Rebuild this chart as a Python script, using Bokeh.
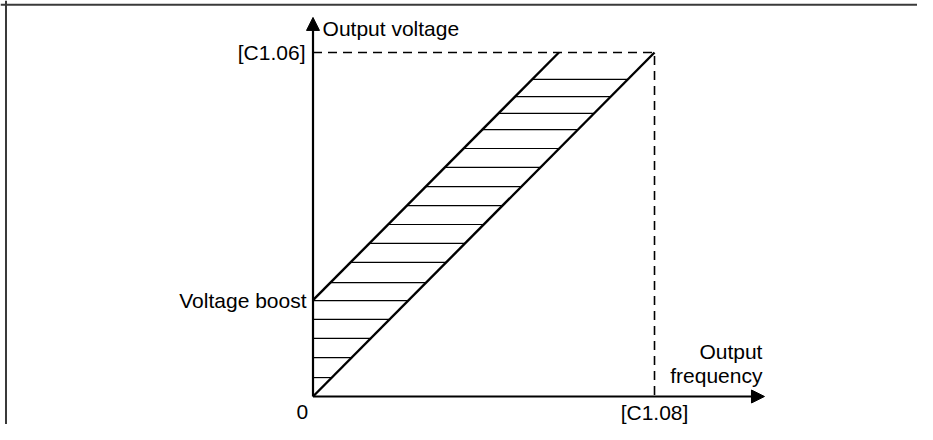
from bokeh.plotting import figure
from bokeh.models import Range1d, Arrow, NormalHead, Span
from bokeh.core.properties import value
from bokeh.embed import file_html
from bokeh.resources import INLINE

# ---- data (in percent of rated values) ----
rated_voltage = 100.0      # [C1.06]
rated_frequency = 100.0    # [C1.08]
voltage_boost = 28.0       # "Voltage boost"
hatch_levels = [5.5, 11.3, 16.9, 22.4, 27.9, 33.1, 39.0, 44.5, 50.0,
                55.5, 61.0, 66.6, 72.1, 77.6, 82.3, 87.2, 92.2]
y_axis_top = 110.2
x_axis_end = 132.2

y_tick_labels = ["[C1.06]", "Voltage boost"]
y_tick_values = [rated_voltage, voltage_boost]
x_tick_labels = ["0", "[C1.08]"]
x_tick_values = [-3.1, rated_frequency]
y_axis_title = "Output voltage"
x_axis_title = ["Output", "frequency"]

FONT = value("Liberation Sans")

x_start, x_end = -91.51, 177.01
y_start, y_end = -8.14, 115.12

p = figure(width=917, height=424, output_backend="svg", toolbar_location=None,
           x_range=Range1d(x_start, x_end), y_range=Range1d(y_start, y_end),
           min_border=0)
p.axis.visible = False
p.grid.visible = False
p.outline_line_color = None
p.background_fill_color = "white"
p.border_fill_color = "white"

# frame lines (left and top)
p.add_layout(Span(location=-89.9, dimension="height", line_color="#3a3a3a", line_width=2))
p.add_layout(Span(location=113.87, dimension="width", line_color="#3a3a3a", line_width=2))

# dashed reference lines
p.line([0, rated_frequency, rated_frequency], [rated_voltage, rated_voltage, 0],
       line_color="black", line_width=1.6, line_dash="9 6")

# hatch lines between the two characteristic lines
x0s = [max(0.0, h - voltage_boost) for h in hatch_levels]
x1s = [h * rated_frequency / rated_voltage for h in hatch_levels]
p.segment(x0=x0s, y0=hatch_levels, x1=x1s, y1=hatch_levels,
          line_color="black", line_width=1.2)

# characteristic lines
p.line([0, rated_frequency], [0, rated_voltage], line_color="black", line_width=2.4)
p.line([0, (rated_voltage - voltage_boost) * rated_frequency / rated_voltage],
       [voltage_boost, rated_voltage], line_color="black", line_width=2.4)

# axes with arrows
p.add_layout(Arrow(x_start=0, y_start=0, x_end=0, y_end=y_axis_top,
                   line_color="black", line_width=2.2,
                   end=NormalHead(size=13, fill_color="black", line_color="black", line_width=1)))
p.add_layout(Arrow(x_start=0, y_start=0, x_end=x_axis_end, y_end=0,
                   line_color="black", line_width=2.2,
                   end=NormalHead(size=13, fill_color="black", line_color="black", line_width=1)))

# labels
p.text(x=[-2.2, -1.9], y=y_tick_values, text=y_tick_labels, text_font=FONT,
       text_font_size="21px", text_align="right", text_baseline="middle", text_color="black")
p.text(x=x_tick_values, y=[-4.65, -4.65], text=x_tick_labels, text_font=FONT,
       text_font_size="21px", text_align="center", text_baseline="middle", text_color="black")
p.text(x=[2.8], y=[107.0], text=[y_axis_title], text_font=FONT,
       text_font_size="21px", text_align="left", text_baseline="middle", text_color="black")
p.text(x=[131.6, 131.6], y=[13.2, 6.1], text=x_axis_title, text_font=FONT,
       text_font_size="21px", text_align="right", text_baseline="middle", text_color="black")

open("out.html", "w").write(file_html(p, INLINE))
